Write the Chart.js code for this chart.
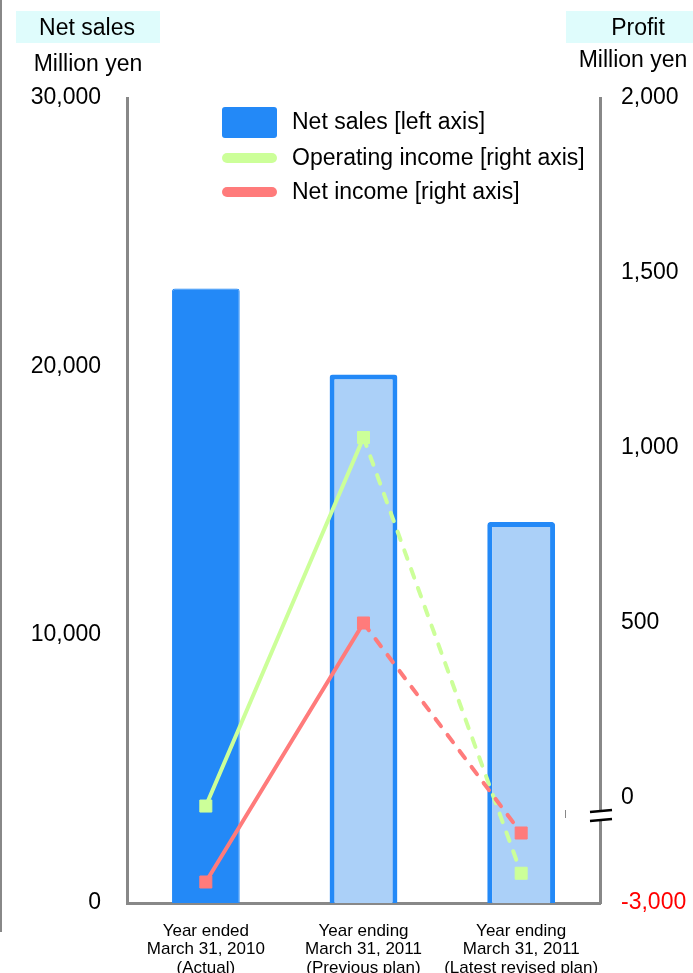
<!DOCTYPE html>
<html>
<head>
<meta charset="utf-8">
<script src="https://cdn.jsdelivr.net/npm/chart.js@4/dist/chart.umd.min.js"></script>
<style>
  html, body { margin: 0; padding: 0; background: #fff; }
  canvas { display: block; }
</style>
</head>
<body>
<canvas id="chart1" width="693" height="973"></canvas>
<script>
var categories = [
  ["Year ended", "March 31, 2010", "(Actual)"],
  ["Year ending", "March 31, 2011", "(Previous plan)"],
  ["Year ending", "March 31, 2011", "(Latest revised plan)"]
];
var netSales = [22900, 19700, 14200];
var operatingIncome = [-230, 1030, -2150];
var netIncome = [-2400, 500, -1000];
var salesTicks = [0, 10000, 20000, 30000];
var profitTicks = [-3000, 0, 500, 1000, 1500, 2000];

// negative profit values are drawn squeezed below the axis break
var squeeze = 0.1;

var FONT = "'Liberation Sans', Arial, sans-serif";
var BLUE = '#2389f7';
var LIGHT = '#abd0f8';
var GREEN = '#ccff99';
var RED = '#ff7b7b';
var GREY = '#888888';

class BrokenScale extends Chart.LinearScale {
  getPixelForValue(value) {
    if (value === null || value === undefined) return NaN;
    return super.getPixelForValue(value < 0 ? value * squeeze : value);
  }
  getValueForPixel(pixel) {
    var v = super.getValueForPixel(pixel);
    return v < 0 ? v / squeeze : v;
  }
}
BrokenScale.id = 'broken';
BrokenScale.defaults = Chart.LinearScale.defaults;
Chart.register(BrokenScale);

var decor = {
  id: 'decor',
  afterDraw: function (chart) {
    var ctx = chart.ctx;
    ctx.save();

    // thin rule on the left edge of the page
    ctx.strokeStyle = GREY;
    ctx.lineWidth = 2;
    ctx.beginPath();
    ctx.moveTo(1, 0);
    ctx.lineTo(1, 932);
    ctx.stroke();

    // axis headers
    ctx.fillStyle = '#dffcfc';
    ctx.fillRect(16, 11, 144, 32);
    ctx.fillRect(566, 11, 127, 32);
    ctx.fillStyle = '#000';
    ctx.font = '23px ' + FONT;
    ctx.textAlign = 'center';
    ctx.textBaseline = 'middle';
    ctx.fillText('Net sales', 87, 29);
    ctx.fillText('Million yen', 88, 65);
    ctx.fillText('Profit', 638, 29);
    ctx.fillText('Million yen', 633, 61);

    // break marks on the profit axis
    var x = chart.scales.y1.left;
    var yb = chart.scales.y1.getPixelForValue(0) + 17;
    ctx.fillStyle = '#fff';
    ctx.fillRect(x - 4, yb - 4, 8, 8);
    ctx.strokeStyle = '#000';
    ctx.lineWidth = 2.5;
    ctx.beginPath();
    ctx.moveTo(x - 10, yb - 3);
    ctx.lineTo(x + 12, yb - 5);
    ctx.moveTo(x - 10, yb + 6);
    ctx.lineTo(x + 12, yb + 4);
    ctx.stroke();
    ctx.strokeStyle = GREY;
    ctx.lineWidth = 1;
    ctx.beginPath();
    ctx.moveTo(x - 34.5, yb - 5);
    ctx.lineTo(x - 34.5, yb + 3);
    ctx.stroke();

    // legend
    var ds = chart.data.datasets;
    var lx = 222, rows = [122, 158, 192];
    ctx.textAlign = 'left';
    ctx.font = '23px ' + FONT;
    ds.forEach(function (d, i) {
      var y = rows[i];
      if (d.type === 'line') {
        ctx.strokeStyle = d.borderColor;
        ctx.lineWidth = 10;
        ctx.lineCap = 'round';
        ctx.beginPath();
        ctx.moveTo(lx + 5, y);
        ctx.lineTo(lx + 50, y);
        ctx.stroke();
      } else {
        ctx.fillStyle = BLUE;
        ctx.beginPath();
        ctx.roundRect(lx, y - 15, 55, 31, 3);
        ctx.fill();
      }
      ctx.fillStyle = '#000';
      ctx.fillText(d.label, 292, y + 1);
    });
    ctx.restore();
  }
};

new Chart(document.getElementById('chart1'), {
  type: 'bar',
  data: {
    labels: categories,
    datasets: [
      {
        type: 'bar',
        label: 'Net sales [left axis]',
        data: netSales,
        yAxisID: 'y',
        order: 3,
        backgroundColor: [BLUE, LIGHT, LIGHT],
        borderColor: BLUE,
        borderWidth: [1, 5, 5],
        borderSkipped: 'bottom',
        borderRadius: 3,
        barPercentage: 0.43,
        categoryPercentage: 1
      },
      {
        type: 'line',
        label: 'Operating income [right axis]',
        data: operatingIncome,
        yAxisID: 'y1',
        order: 2,
        borderColor: GREEN,
        backgroundColor: GREEN,
        borderWidth: 4,
        borderCapStyle: 'round',
        pointStyle: 'rect',
        pointRadius: 8.5,
        pointBorderWidth: 1,
        segment: { borderDash: function (c) { return c.p0DataIndex === 1 ? [9, 11] : undefined; } }
      },
      {
        type: 'line',
        label: 'Net income [right axis]',
        data: netIncome,
        yAxisID: 'y1',
        order: 1,
        borderColor: RED,
        backgroundColor: RED,
        borderWidth: 4,
        borderCapStyle: 'round',
        pointStyle: 'rect',
        pointRadius: 8.5,
        pointBorderWidth: 1,
        segment: { borderDash: function (c) { return c.p0DataIndex === 1 ? [9, 11] : undefined; } }
      }
    ]
  },
  options: {
    responsive: false,
    animation: false,
    layout: { padding: { top: 98, left: 0, right: 0, bottom: 0 } },
    plugins: { legend: { display: false }, tooltip: { enabled: false } },
    scales: {
      x: {
        offset: true,
        grid: { display: false },
        border: { display: true, color: GREY, width: 3 },
        ticks: { color: '#000', font: { family: FONT, size: 17, lineHeight: 1.08 }, padding: 11, maxRotation: 0, autoSkip: false },
        afterFit: function (s) { s.height = 70; }
      },
      y: {
        position: 'left',
        min: 0,
        max: 30000,
        grid: { display: false },
        border: { display: true, color: GREY, width: 3 },
        afterBuildTicks: function (s) { s.ticks = salesTicks.map(function (v) { return { value: v }; }); },
        ticks: {
          color: '#000',
          padding: 18,
          font: { family: FONT, size: 23 },
          callback: function (v) { return Number(v).toLocaleString('en-US'); }
        },
        afterFit: function (s) { s.width = 127; }
      },
      y1: {
        type: 'broken',
        position: 'right',
        min: profitTicks[0] * squeeze,
        max: profitTicks[profitTicks.length - 1],
        grid: { display: false },
        border: { display: true, color: GREY, width: 3 },
        afterBuildTicks: function (s) { s.ticks = profitTicks.map(function (v) { return { value: v }; }); },
        ticks: {
          padding: 13,
          font: { family: FONT, size: 23 },
          color: function (c) { return c.tick && c.tick.value < 0 ? '#ff0000' : '#000'; },
          callback: function (v) { return Number(v).toLocaleString('en-US'); }
        },
        afterFit: function (s) { s.width = 93; }
      }
    }
  },
  plugins: [decor]
});
</script>
</body>
</html>
